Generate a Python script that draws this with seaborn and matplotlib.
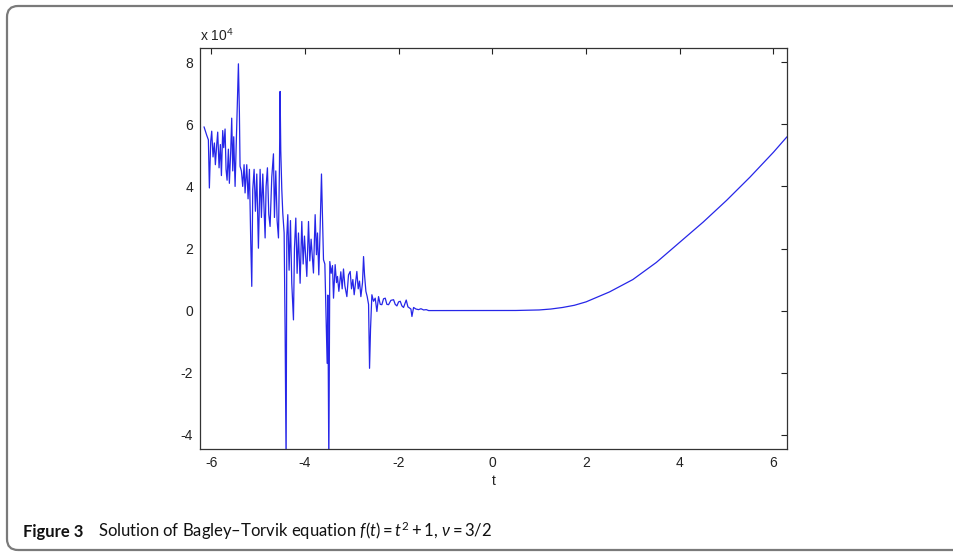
import matplotlib
matplotlib.use("Agg")
import matplotlib.pyplot as plt
import matplotlib.transforms as mtransforms
from matplotlib.patches import FancyBboxPatch
import pandas as pd
import seaborn as sns

# Numerical solution, values in units of 10^4
# Oscillating part (t < -1.3)
t_osc = [
    -6.154, -6.097, -6.061, -6.040, -6.011, -5.990, -5.962, -5.933, -5.912, -5.883,
    -5.862, -5.833, -5.805, -5.783, -5.755, -5.734, -5.705, -5.684, -5.662, -5.634,
    -5.613, -5.584, -5.563, -5.541, -5.520, -5.491, -5.456, -5.420, -5.399, -5.385,
    -5.356, -5.328, -5.299, -5.278, -5.242, -5.214,
    -5.185, -5.157, -5.135, -5.114, -5.085, -5.057, -5.028, -4.993, -4.957, -4.929,
    -4.900, -4.850, -4.829, -4.801, -4.772, -4.744, -4.708, -4.672, -4.651, -4.622,
    -4.594, -4.565, -4.544, -4.530, -4.516, -4.494, -4.473, -4.444, -4.423, -4.402,
    -4.387, -4.366, -4.338, -4.309, -4.281, -4.245, -4.224, -4.195, -4.167, -4.138,
    -4.103, -4.067, -4.038, -4.010, -3.960, -3.924, -3.896, -3.868, -3.818, -3.782,
    -3.754, -3.732, -3.704, -3.675, -3.647, -3.625, -3.604, -3.575, -3.526, -3.511,
    -3.490, -3.469, -3.440, -3.412, -3.390, -3.355, -3.326, -3.305, -3.276, -3.234,
    -3.205, -3.177, -3.148, -3.105, -3.070, -3.034, -3.006, -2.977, -2.949, -2.892,
    -2.863, -2.835, -2.806, -2.771, -2.749, -2.728, -2.699, -2.671, -2.642, -2.621,
    -2.600, -2.571, -2.536, -2.500, -2.464, -2.429, -2.393, -2.358, -2.322, -2.286,
    -2.251, -2.215, -2.165, -2.108, -2.073, -2.037, -2.001, -1.966, -1.930, -1.895,
    -1.838, -1.802, -1.766, -1.738, -1.716, -1.681, -1.631, -1.574, -1.524, -1.467,
    -1.410, -1.360, -1.325,
]
y_osc = [
    5.92, 5.65, 5.50, 3.95, 5.45, 5.78, 4.95, 5.40, 4.70, 5.35,
    5.75, 4.60, 5.35, 4.35, 5.80, 5.25, 5.85, 4.55, 4.20, 5.20,
    4.10, 5.15, 6.20, 4.50, 5.60, 4.00, 5.95, 7.95, 6.37, 4.65,
    4.50, 4.00, 4.70, 3.79, 4.70, 3.60,
    4.55, 2.23, 0.78, 3.90, 4.55, 3.20, 4.40, 2.01, 4.55, 3.00,
    4.40, 2.34, 4.00, 4.60, 3.10, 2.71, 4.30, 5.05, 3.00, 4.50,
    2.90, 2.34, 4.65, 7.06, 5.15, 3.90, 3.14, 2.50, -0.68, -5.00,
    2.40, 3.09, 1.30, 2.90, 0.88, -0.30, 2.00, 2.98, 1.20, 2.50,
    0.88, 2.87, 1.50, 2.40, 1.10, 2.87, 1.60, 2.30, 1.21, 3.09,
    1.80, 2.50, 1.15, 2.70, 4.40, 3.03, 1.64, 1.50, -1.70, 0.50,
    -5.00, 1.58, 1.20, 1.45, 0.40, 1.48, 0.90, 1.10, 0.62, 1.25,
    0.70, 1.34, 0.80, 0.45, 1.15, 1.26, 0.70, 1.00, 0.51, 1.26,
    0.70, 0.95, 0.45, 0.90, 1.74, 1.15, 0.62, 0.45, 0.20, -1.86,
    -0.60, 0.51, 0.30, 0.40, -0.03, 0.45, 0.20, 0.19, 0.38, 0.40,
    0.20, 0.19, 0.33, 0.35, 0.20, 0.15, 0.28, 0.30, 0.15, 0.10,
    0.34, 0.12, 0.08, 0.05, -0.19, 0.10, 0.05, 0.03, 0.06, 0.02,
    0.03, 0.00, 0.00,
]
# Smooth part (t >= -1.3)
t_smooth = [-1.0, -0.5, 0.0, 0.5, 1.0, 1.25, 1.5, 1.75, 2.0, 2.5,
            3.0, 3.5, 4.0, 4.5, 5.0, 5.5, 6.0, 6.29]
y_smooth = [0.0, 0.0, 0.0, 0.003, 0.02, 0.05, 0.10, 0.17, 0.28, 0.60,
            1.00, 1.55, 2.20, 2.85, 3.55, 4.30, 5.10, 5.60]

x_ticks = [-6, -4, -2, 0, 2, 4, 6]
y_ticks = [-4, -2, 0, 2, 4, 6, 8]

sns.set_style("white")
plt.rcParams["font.family"] = ["Liberation Sans", "DejaVu Sans"]
plt.rcParams["mathtext.fontset"] = "custom"
plt.rcParams["mathtext.rm"] = "Lato"
plt.rcParams["mathtext.it"] = "Lato:italic"

df = pd.DataFrame({"t": t_osc + t_smooth, "y": y_osc + y_smooth})

W, H = 954, 552
fig = plt.figure(figsize=(W / 100, H / 100), dpi=100)
fig.patch.set_facecolor("white")

ax = fig.add_axes([200 / W, 1 - 449 / H, 587 / W, 401 / H])
sns.lineplot(data=df, x="t", y="y", sort=False, estimator=None,
             color="#2626e8", linewidth=0.9, ax=ax)

ax.set_xlim(-6.24, 6.29)
ax.set_ylim(-4.46, 8.46)
ax.set_xticks(x_ticks)
ax.set_yticks(y_ticks)
ax.set_xticklabels([str(v) for v in x_ticks])
ax.set_yticklabels([str(v) for v in y_ticks])
ax.tick_params(direction="in", length=4, width=0.8, top=True, right=True,
               labelsize=10, pad=5, colors="#222222")
for s in ax.spines.values():
    s.set_linewidth(0.9)
    s.set_color("#333333")
ax.set_xlabel("t", fontsize=10, color="#222222", labelpad=3)
ax.set_ylabel("")

fig.text(200 / W, 1 - 41 / H, r"x 10$^{4}$", fontsize=10, color="#222222",
         family="Liberation Sans", ha="left", va="baseline")

# rounded frame around the figure
px = mtransforms.IdentityTransform()
frame = FancyBboxPatch((7, 2), 980, 544, boxstyle="round,pad=0,rounding_size=11",
                       transform=px, fill=False, edgecolor="#7a7a7a",
                       linewidth=1.6, figure=fig)
fig.patches.append(frame)

# caption
cap_y = 1 - 537 / H
fig.text(23 / W, cap_y, "Figure 3", fontsize=12, weight="bold",
         family="Lato", color="#111111", ha="left", va="baseline")
fig.text(98 / W, cap_y,
         r"Solution of Bagley–Torvik equation $f(t) = t^2 + 1$, $\nu = 3/2$",
         fontsize=12, family="Lato", color="#111111", ha="left", va="baseline")

fig.savefig("out.png", dpi=100, facecolor="white")
